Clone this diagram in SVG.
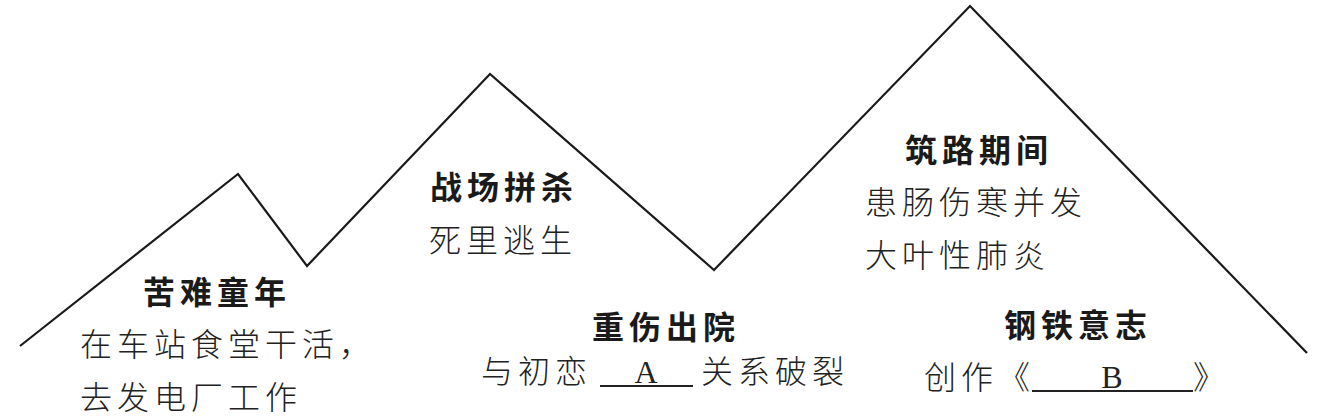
<svg xmlns="http://www.w3.org/2000/svg" width="1326" height="420" viewBox="0 0 1326 420">
<style>
.h{font-family:"Noto Sans CJK SC","Noto Sans",sans-serif;font-size:32px;font-weight:bold;letter-spacing:5px;fill:#1a1a1a}
.t{font-family:"Noto Sans CJK SC","Noto Sans",sans-serif;font-size:32px;font-weight:300;letter-spacing:5px;fill:#222}
.l{font-family:"Liberation Serif",serif;font-size:32px;fill:#222;text-anchor:middle}
.u{stroke:#222;stroke-width:2}
.m{fill:none;stroke:#1a1a1a;stroke-width:2.2;stroke-linejoin:miter}
</style>
<rect width="1326" height="420" fill="#fff"/>
<g id="connectors">
<polyline class="m" points="20,346 238,174 307,266 490,74 714,270 970,6 1307,353"/>
</g>
<g id="childhood">
<text class="h" x="143" y="304">苦难童年</text>
<text class="t" x="80" y="356">在车站食堂干活，</text>
<text class="t" x="80" y="409">去发电厂工作</text>
</g>
<g id="battle">
<text class="h" x="430" y="199">战场拼杀</text>
<text class="t" x="429" y="252">死里逃生</text>
</g>
<g id="injury">
<text class="h" x="592" y="339">重伤出院</text>
<text class="t" x="481" y="383">与初恋</text>
<line class="u" x1="600" y1="386" x2="693" y2="386"/>
<text class="l" x="646" y="383">A</text>
<text class="t" x="701" y="383">关系破裂</text>
</g>
<g id="railway">
<text class="h" x="905" y="162">筑路期间</text>
<text class="t" x="865" y="214">患肠伤寒并发</text>
<text class="t" x="865" y="267">大叶性肺炎</text>
</g>
<g id="will">
<text class="h" x="1004" y="337">钢铁意志</text>
<text class="t" x="924" y="389">创作《</text>
<line class="u" x1="1032" y1="391" x2="1193" y2="391"/>
<text class="l" x="1112" y="388">B</text>
<text class="t" x="1193" y="389">》</text>
</g>
</svg>
